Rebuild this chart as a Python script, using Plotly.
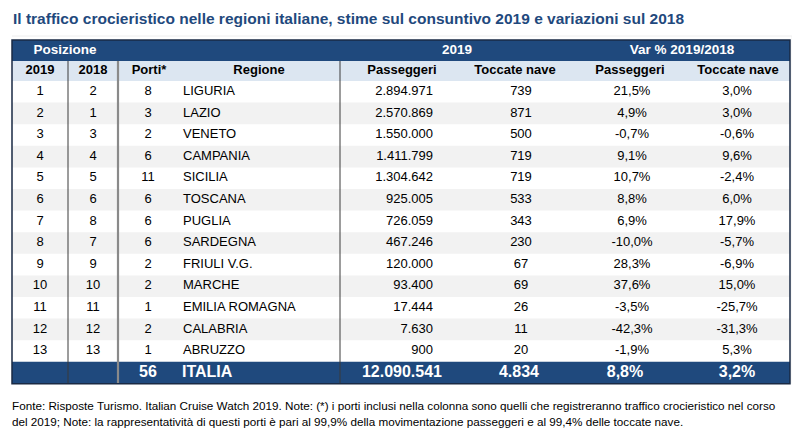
import plotly.graph_objects as go

# Dati della tabella
pos_2019 = [1, 2, 3, 4, 5, 6, 7, 8, 9, 10, 11, 12, 13]
pos_2018 = [2, 1, 3, 4, 5, 6, 8, 7, 9, 10, 11, 12, 13]
porti = [8, 3, 2, 6, 11, 6, 6, 6, 2, 2, 1, 2, 1]
regioni = ["LIGURIA", "LAZIO", "VENETO", "CAMPANIA", "SICILIA", "TOSCANA", "PUGLIA",
           "SARDEGNA", "FRIULI V.G.", "MARCHE", "EMILIA ROMAGNA", "CALABRIA", "ABRUZZO"]
passeggeri = [2894971, 2570869, 1550000, 1411799, 1304642, 925005, 726059,
              467246, 120000, 93400, 17444, 7630, 900]
toccate = [739, 871, 500, 719, 719, 533, 343, 230, 67, 69, 26, 11, 20]
var_passeggeri = [21.5, 4.9, -0.7, 9.1, 10.7, 8.8, 6.9, -10.0, 28.3, 37.6, -3.5, -42.3, -1.9]
var_toccate = [3.0, 3.0, -0.6, 9.6, -2.4, 6.0, 17.9, -5.7, -6.9, 15.0, -25.7, -31.3, 5.3]

totale_porti = 56
totale_label = "ITALIA"
totale_passeggeri = 12090541
totale_toccate = 4834
totale_var_passeggeri = 8.8
totale_var_toccate = 3.2

intestazioni = ["2019", "2018", "Porti*", "Regione", "Passeggeri", "Toccate nave", "Passeggeri", "Toccate nave"]
gruppi = ["Posizione", "2019", "Var % 2019/2018"]

titolo = "Il traffico crocieristico nelle regioni italiane, stime sul consuntivo 2019 e variazioni sul 2018"
nota_1 = ("Fonte: Risposte Turismo. Italian Cruise Watch 2019. Note: (*) i porti inclusi nella colonna "
          "sono quelli che registreranno traffico crocieristico nel corso")
nota_2 = ("del 2019; Note: la rappresentatività di questi porti è pari al 99,9% della movimentazione "
          "passeggeri e al 99,4% delle toccate nave.")


# Formattazione all'italiana
def migliaia(v):
    return f"{v:,}".replace(",", ".")


def percentuale(v):
    return f"{v:.1f}%".replace(".", ",")


# Geometria: le unita' degli assi coincidono con i pixel della finestra
# (la pagina ha un margine di 8px, quindi la figura parte da 8,8)
OFF = 8
W, H = 800, 436
NAVY = "#1F497D"
LIGHT = "#DCE6F1"
STRIPE = "#F2F2F2"
FONT = "Liberation Sans, Arial, sans-serif"

x_left, x_right = 12, 790
y_top = 40
h_head1, h_head2 = 21, 20
row_h = 21.6
y_body = y_top + h_head1 + h_head2
n = len(regioni)
y_tot = y_body + n * row_h
y_end = y_tot + 22

col_x = [40, 93, 148, 183, 433, 521, 632, 737]
col_pos = ["middle center", "middle center", "middle center", "middle right",
           "middle left", "middle center", "middle center", "middle center"]
head_x = [40, 93, 149, 259, 402, 515, 630, 738]
group_x = [65, 457, 682]

row_y = [y_body + (i + 0.5) * row_h for i in range(n)]


def px(x):
    return (x - OFF) / (W - OFF)


def py(y):
    return 1 - (y - OFF) / (H - OFF)


fig = go.Figure()

shapes = []
# sfondi
shapes.append(dict(type="rect", x0=x_left, x1=x_right, y0=y_top, y1=y_top + h_head1,
                   fillcolor=NAVY, line_width=0, layer="below"))
shapes.append(dict(type="rect", x0=x_left, x1=x_right, y0=y_top + h_head1, y1=y_body,
                   fillcolor=LIGHT, line_width=0, layer="below"))
for i in range(n):
    if i % 2 == 1:
        shapes.append(dict(type="rect", x0=x_left, x1=x_right, y0=y_body + i * row_h,
                           y1=y_body + (i + 1) * row_h, fillcolor=STRIPE, line_width=0, layer="below"))
shapes.append(dict(type="rect", x0=x_left, x1=x_right, y0=y_tot, y1=y_end,
                   fillcolor=NAVY, line_width=0, layer="below"))

# linee verticali interne
for xv, col, w in [(68, "#3a3a3a", 1), (118, "#8a8a8a", 2.2), (340, "#3a3a3a", 1)]:
    shapes.append(dict(type="line", x0=xv, x1=xv, y0=y_top + h_head1, y1=y_end,
                       line=dict(color=col, width=w)))
# bordo esterno
shapes.append(dict(type="rect", x0=x_left, x1=x_right, y0=y_top, y1=y_end,
                   line=dict(color="#1a2a44", width=1.5), fillcolor="rgba(0,0,0,0)"))
# ombra leggera
shapes.append(dict(type="line", x0=x_right + 2.5, x1=x_right + 2.5, y0=y_top - 4, y1=y_end,
                   line=dict(color="#e4e4e4", width=1.5)))
shapes.append(dict(type="line", x0=x_left, x1=x_right + 2.5, y0=y_top - 4, y1=y_top - 4,
                   line=dict(color="#eeeeee", width=1)))

# intestazione gruppi
fig.add_trace(go.Scatter(
    x=group_x, y=[y_top + h_head1 / 2] * 3, text=[f"<b>{g}</b>" for g in gruppi],
    mode="text", textfont=dict(family=FONT, size=13.5, color="white"), hoverinfo="skip"))

# intestazione colonne
fig.add_trace(go.Scatter(
    x=head_x, y=[y_top + h_head1 + h_head2 / 2] * len(intestazioni),
    text=[f"<b>{t}</b>" for t in intestazioni],
    mode="text", textfont=dict(family=FONT, size=13, color="black"), hoverinfo="skip"))

# corpo della tabella
colonne = [
    [str(v) for v in pos_2019],
    [str(v) for v in pos_2018],
    [str(v) for v in porti],
    regioni,
    [migliaia(v) for v in passeggeri],
    [migliaia(v) for v in toccate],
    [percentuale(v) for v in var_passeggeri],
    [percentuale(v) for v in var_toccate],
]
for j, valori in enumerate(colonne):
    fig.add_trace(go.Scatter(
        x=[col_x[j]] * n, y=row_y, text=valori, mode="text", textposition=col_pos[j],
        textfont=dict(family=FONT, size=13, color="black"), hoverinfo="skip"))

# riga del totale
tot_testi = [str(totale_porti), totale_label, migliaia(totale_passeggeri),
             migliaia(totale_toccate), percentuale(totale_var_passeggeri),
             percentuale(totale_var_toccate)]
tot_x = [148, 182, 442, 519, 625, 737]
tot_pos = ["middle center", "middle right", "middle left", "middle center", "middle center", "middle center"]
for xv, t, p in zip(tot_x, tot_testi, tot_pos):
    fig.add_trace(go.Scatter(
        x=[xv], y=[y_tot + (y_end - y_tot) / 2], text=[f"<b>{t}</b>"], mode="text",
        textposition=p, textfont=dict(family=FONT, size=16, color="white"), hoverinfo="skip"))

fig.update_layout(
    width=W - OFF, height=H - OFF,
    margin=dict(l=0, r=0, t=0, b=0),
    paper_bgcolor="white", plot_bgcolor="white",
    showlegend=False,
    xaxis=dict(range=[OFF, W], visible=False, fixedrange=True),
    yaxis=dict(range=[H, OFF], visible=False, fixedrange=True),
    shapes=shapes,
    annotations=[
        dict(text=f"<b>{titolo}</b>", x=px(11), y=py(19), xref="paper", yref="paper",
             xanchor="left", yanchor="middle", showarrow=False,
             font=dict(family=FONT, size=15.5, color=NAVY)),
        dict(text=nota_1, x=px(10), y=py(405), xref="paper", yref="paper",
             xanchor="left", yanchor="middle", showarrow=False,
             font=dict(family=FONT, size=11.7, color="black")),
        dict(text=nota_2, x=px(10), y=py(421), xref="paper", yref="paper",
             xanchor="left", yanchor="middle", showarrow=False,
             font=dict(family=FONT, size=11.7, color="black")),
    ],
)

fig.write_html("out.html")
